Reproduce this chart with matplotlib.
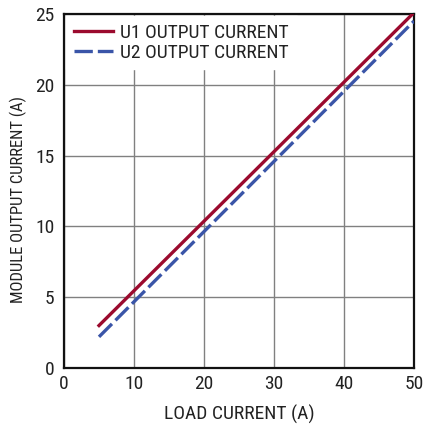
import matplotlib
matplotlib.use("Agg")
import matplotlib.pyplot as plt

plt.rcParams['font.family'] = ['Liberation Sans Narrow', 'Roboto Condensed', 'Liberation Sans', 'DejaVu Sans']

# load current (A)
load = [5, 50]
# module output currents (A)
u1_out = [3.0, 25.1]
u2_out = [2.2, 24.5]

fig = plt.figure(figsize=(4.26, 4.24), dpi=100)
ax = fig.add_axes([64/426, 1 - 368/424, 350/426, 354/424])

ax.plot(load, u1_out, color="#9b0a2e", linewidth=2.4, label="U1 OUTPUT CURRENT", zorder=3)
ax.plot(load, u2_out, color="#3a55a8", linewidth=2.4, dashes=(5.5, 1.5), label="U2 OUTPUT CURRENT", zorder=3)

ax.set_xlim(0, 50)
ax.set_ylim(0, 25)
ax.set_xticks([0, 10, 20, 30, 40, 50])
ax.set_yticks([0, 5, 10, 15, 20, 25])
ax.grid(True, color="#808080", linewidth=1.0)
ax.tick_params(length=0, labelsize=14, colors="#222222")
ax.tick_params(axis="x", pad=5)
ax.tick_params(axis="y", pad=7)
for s in ax.spines.values():
    s.set_linewidth(1.6)
    s.set_color("#111111")

ax.set_xlabel("LOAD CURRENT (A)", fontsize=14, color="#222222")
ax.set_ylabel("MODULE OUTPUT CURRENT (A)", fontsize=12, color="#222222")
ax.xaxis.set_label_coords(0.5, -0.105)
ax.yaxis.set_label_coords(-0.105, 0.477)

leg = ax.legend(loc="upper left", frameon=True, fontsize=14, handlelength=2.0,
                borderaxespad=0.1, labelspacing=0.1, handletextpad=0.4)
leg.get_frame().set_edgecolor("white")
leg.get_frame().set_facecolor("white")
leg.get_frame().set_alpha(1.0)
leg.get_frame().set_boxstyle("square", pad=0.0)
for t in leg.get_texts():
    t.set_color("#222222")

plt.savefig("out.png", dpi=100)
